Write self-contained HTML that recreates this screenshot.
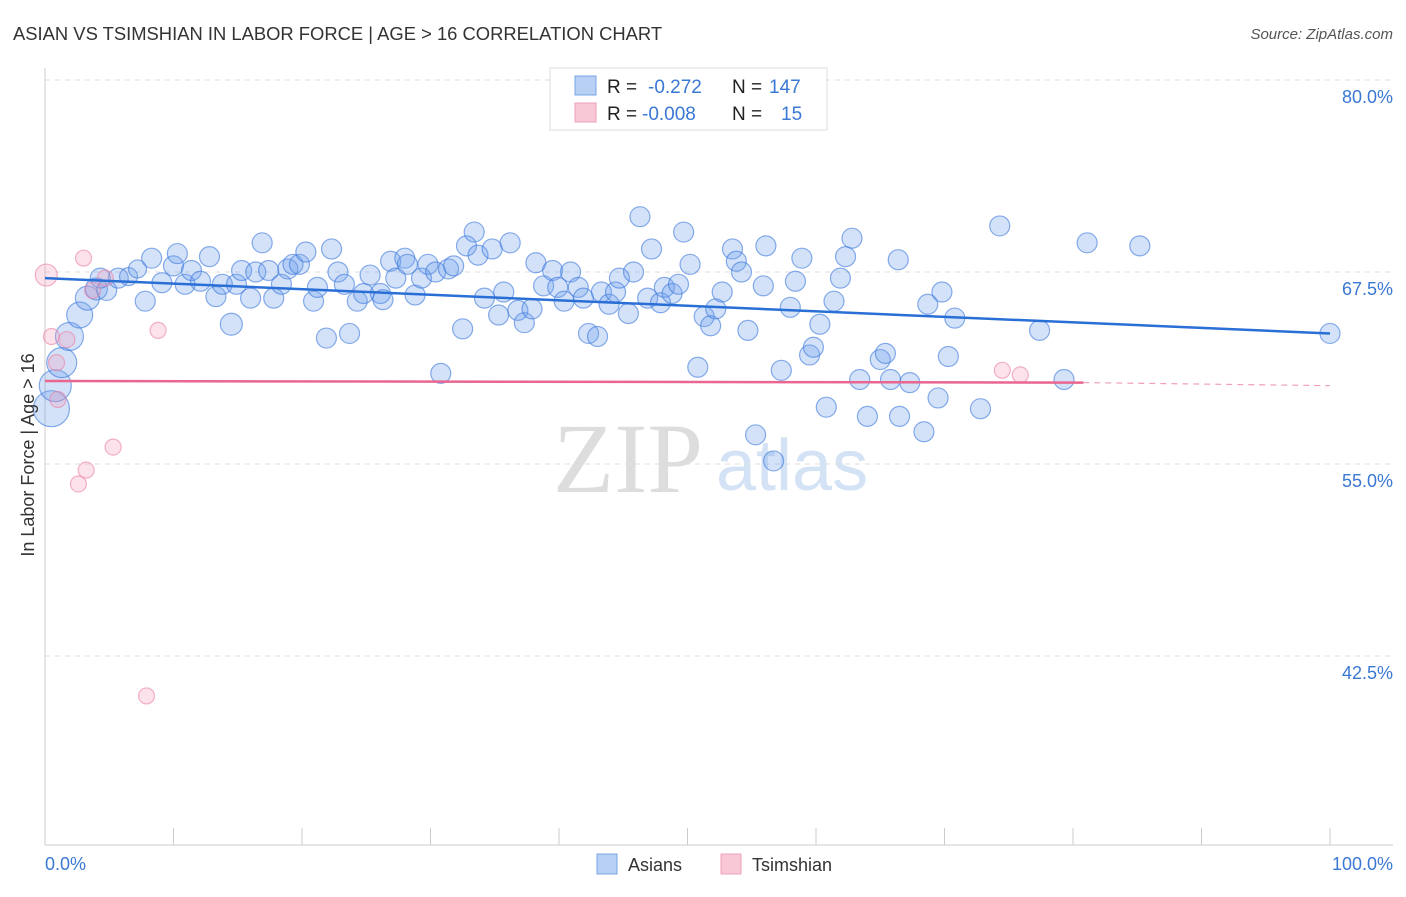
<!DOCTYPE html>
<html><head><meta charset="utf-8"><style>
body{margin:0;background:#fff;width:1406px;height:892px;overflow:hidden;font-family:"Liberation Sans",sans-serif}
</style></head><body>
<svg id="c" width="1406" height="892" xmlns="http://www.w3.org/2000/svg">
<text x="13" y="40" font-size="18.4" fill="#333">ASIAN VS TSIMSHIAN IN LABOR FORCE | AGE &gt; 16 CORRELATION CHART</text>
<text x="1393" y="39" font-size="15" fill="#555" font-style="italic" text-anchor="end">Source: ZipAtlas.com</text>
<g>
<text x="553" y="492" font-size="100" font-family="Liberation Serif,serif" fill="#ddd">ZIP</text>
<text x="716" y="490" font-size="72" fill="#d4e2f5">atlas</text>
</g>
<g id="grid"></g>
<g id="axes"></g>
<g id="pts"></g>
<g id="lines"></g>
<text transform="translate(34,455) rotate(-90)" font-size="18" fill="#333" text-anchor="middle">In Labor Force | Age &gt; 16</text>
<text x="45" y="870" font-size="18" fill="#3a78d4">0.0%</text>
<text x="1393" y="870" font-size="18" fill="#3a78d4" text-anchor="end">100.0%</text>
<g>
<rect x="550" y="68" width="277" height="62" fill="#fff" stroke="#ddd"/>
<rect x="575" y="76" width="21" height="19" fill="#b8d0f4" stroke="#7aa4e4"/>
<rect x="575" y="103" width="21" height="19" fill="#f9c8d6" stroke="#f0a0b8"/>
<text x="607" y="93" font-size="19" fill="#222">R = <tspan fill="#3a78d4" x="648">-0.272</tspan><tspan x="732">N =</tspan><tspan fill="#3a78d4" x="769">147</tspan></text>
<text x="607" y="120" font-size="19" fill="#222">R = <tspan fill="#3a78d4" x="642">-0.008</tspan><tspan x="732">N =</tspan><tspan fill="#3a78d4" x="781">15</tspan></text>
</g>
<g>
<rect x="597" y="854" width="20" height="20" fill="#b8d0f4" stroke="#7aa4e4"/>
<text x="628" y="871" font-size="18" fill="#333">Asians</text>
<rect x="721" y="854" width="20" height="20" fill="#f9c8d6" stroke="#f0a0b8"/>
<text x="752" y="871" font-size="18" fill="#333">Tsimshian</text>
</g>
</svg>
<script>
const yTicks=[80,67.5,55,42.5];
const yTickLabels=["80.0%","67.5%","55.0%","42.5%"];
const xTicks=[0,10,20,30,40,50,60,70,80,90,100];
const asianX=[0.5,0.8,1.3,1.9,2.7,3.3,4.0,4.8,5.7,6.5,7.2,4.3,7.8,8.3,9.1,10.0,10.3,10.9,11.4,12.1,12.8,13.3,13.8,14.5,14.9,15.3,16.0,16.4,16.9,17.4,17.8,18.4,18.9,19.3,19.8,20.3,20.9,21.2,21.9,22.3,22.8,23.3,23.7,24.3,24.8,25.3,26.1,26.3,26.9,27.3,28.0,28.2,28.8,29.3,29.8,30.4,30.8,31.4,31.8,32.5,32.8,33.4,33.7,34.2,34.8,35.3,35.7,36.2,36.8,37.3,37.9,38.2,38.8,39.5,39.9,40.4,40.9,41.5,41.9,42.3,43.0,43.3,43.9,44.4,44.7,45.4,45.8,46.3,46.9,47.2,47.9,48.2,48.8,49.3,49.7,50.2,50.8,51.3,51.8,52.2,52.7,53.5,53.8,54.2,54.7,55.3,56.1,55.9,56.7,57.3,58.0,58.4,58.9,59.5,59.8,60.3,60.8,61.4,61.9,62.3,62.8,63.4,64.0,65.0,65.4,65.8,66.5,66.4,67.3,68.4,68.7,69.5,69.8,70.3,70.8,72.8,74.3,77.4,79.3,81.1,85.2,100];
const asianY=[58.6,60.1,61.6,63.3,64.7,65.8,66.4,66.3,67.1,67.2,67.7,67.1,65.6,68.4,66.8,67.9,68.7,66.7,67.6,66.9,68.5,65.9,66.7,64.1,66.7,67.6,65.8,67.5,69.4,67.6,65.8,66.7,67.7,68.0,68.0,68.8,65.6,66.5,63.2,69.0,67.5,66.7,63.5,65.6,66.1,67.3,66.1,65.7,68.2,67.1,68.4,68.0,66.0,67.1,68.0,67.5,60.9,67.7,67.9,63.8,69.2,70.1,68.6,65.8,69.0,64.7,66.2,69.4,65.0,64.2,65.1,68.1,66.6,67.6,66.5,65.6,67.5,66.5,65.8,63.5,63.3,66.2,65.4,66.2,67.1,64.8,67.5,71.1,65.8,69.0,65.5,66.5,66.1,66.7,70.1,68.0,61.3,64.6,64.0,65.1,66.2,69.0,68.2,67.5,63.7,56.9,69.2,66.6,55.2,61.1,65.2,66.9,68.4,62.1,62.6,64.1,58.7,65.6,67.1,68.5,69.7,60.5,58.1,61.8,62.2,60.5,58.1,68.3,60.3,57.1,65.4,59.3,66.2,62.0,64.5,58.6,70.5,63.7,60.5,69.4,69.2,63.5];
const asianW=[18,16,15,14,13,12,11,10,10,9,9,10,10,10,10,10,10,10,10,10,10,10,10,11,10,10,10,10,10,10,10,10,10,10,10,10,10,10,10,10,10,10,10,10,10,10,10,10,10,10,10,10,10,10,10,10,10,10,10,10,10,10,10,10,10,10,10,10,10,10,10,10,10,10,10,10,10,10,10,10,10,10,10,10,10,10,10,10,10,10,10,10,10,10,10,10,10,10,10,10,10,10,10,10,10,10,10,10,10,10,10,10,10,10,10,10,10,10,10,10,10,10,10,10,10,10,10,10,10,10,10,10,10,10,10,10,10,10,10,10,10,10,10,10];
const tsimX=[0.1,0.5,1.0,0.9,1.7,3.0,3.7,4.7,5.3,3.2,2.6,8.8,7.9,74.5,75.9];
const tsimY=[67.3,63.3,59.2,61.6,63.1,68.4,66.3,67.1,56.1,54.6,53.7,63.7,39.9,61.1,60.8];
const asianTrend=[[0,67.1],[100,63.5]];
const tsimTrend=[[0,60.4],[80.8,60.3],[100,60.1]];

const NS="http://www.w3.org/2000/svg";
const X=v=>45+v*12.85, Y=v=>80+(80-v)*15.36;
function mk(tag,attrs,parent){const e=document.createElementNS(NS,tag);for(const k in attrs)e.setAttribute(k,attrs[k]);parent.appendChild(e);return e;}
const grid=document.getElementById('grid'),axes=document.getElementById('axes'),pts=document.getElementById('pts'),lines=document.getElementById('lines');
yTicks.forEach((t,i)=>{
  const l=mk('line',{x1:45,x2:1393,y1:Y(t),y2:Y(t),stroke:'#ddd','stroke-dasharray':'5,5'},grid);
  
  
  const tx=mk('text',{x:1393,y:Y(t)+23,'font-size':18,fill:'#3a78d4','text-anchor':'end'},grid);
  tx.textContent=yTickLabels[i];
  
  
});
const ax=mk('line',{x1:45,x2:45,y1:68,y2:845,stroke:'#ccc'},axes);


const bx=mk('line',{x1:45,x2:1393,y1:845,y2:845,stroke:'#ccc'},axes);


xTicks.forEach(t=>{
  const l=mk('line',{x1:X(t),x2:X(t),y1:828,y2:845,stroke:'#ccc'},axes);
  
  
});
asianX.forEach((x,i)=>{
  const c=mk('circle',{cx:X(x),cy:Y(asianY[i]),r:asianW[i],fill:'rgba(110,160,235,0.3)',stroke:'rgba(60,120,220,0.6)','stroke-width':1.2},pts);
  
  
});
tsimX.forEach((x,i)=>{
  const c=mk('circle',{cx:X(x),cy:Y(tsimY[i]),r:i==0?11:8,fill:'rgba(245,160,190,0.3)',stroke:'rgba(235,130,165,0.6)','stroke-width':1.2},pts);
  
  
});
const bl=mk('line',{x1:X(asianTrend[0][0]),y1:Y(asianTrend[0][1]),x2:X(asianTrend[1][0]),y2:Y(asianTrend[1][1]),stroke:'#2a6fd6','stroke-width':2.5},lines);


const pl=mk('line',{x1:X(tsimTrend[0][0]),y1:Y(tsimTrend[0][1]),x2:X(tsimTrend[1][0]),y2:Y(tsimTrend[1][1]),stroke:'#e8668f','stroke-width':2.5},lines);


const pd=mk('line',{x1:X(tsimTrend[1][0]),y1:Y(tsimTrend[1][1]),x2:X(tsimTrend[2][0]),y2:Y(tsimTrend[2][1]),stroke:'#f0a0b8','stroke-width':1.2,'stroke-dasharray':'6,5'},lines);


</script>
</body></html>
